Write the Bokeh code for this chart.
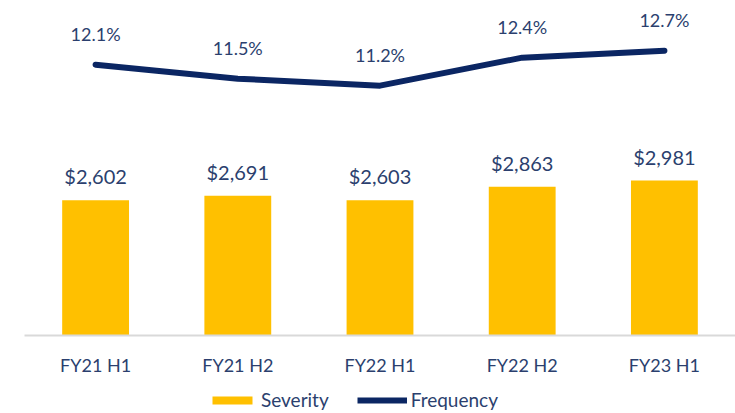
from bokeh.plotting import figure
from bokeh.layouts import column
from bokeh.models import Range1d, ColumnDataSource, Legend, LegendItem, LabelSet, FactorRange
from bokeh.core.properties import value
from bokeh.embed import file_html
from bokeh.resources import INLINE

categories = ["FY21 H1", "FY21 H2", "FY22 H1", "FY22 H2", "FY23 H1"]
severity = [2602, 2691, 2603, 2863, 2981]
frequency = [12.1, 11.5, 11.2, 12.4, 12.7]
severity_labels = ["$2,602", "$2,691", "$2,603", "$2,863", "$2,981"]
frequency_labels = ["12.1%", "11.5%", "11.2%", "12.4%", "12.7%"]
series_names = ["Severity", "Frequency"]

TEXT = "#2b3f6e"
NAVY = "#0b2663"
GOLD = "#ffc000"
FONT = "Lato"

src = ColumnDataSource(dict(cat=categories, sev=severity, freq=frequency,
                            sl=severity_labels, fl=frequency_labels))

p = figure(x_range=FactorRange(*categories, range_padding=0.0), y_range=Range1d(0, 6445),
           frame_width=711, frame_height=335, output_backend="svg", toolbar_location=None,
           min_border_left=24, min_border_right=0, min_border_top=0, min_border_bottom=0)
p.extra_y_ranges = {"freq": Range1d(0.49, 14.85)}
p.outline_line_color = None
p.xgrid.grid_line_color = None
p.ygrid.grid_line_color = None
p.yaxis.visible = False
p.background_fill_color = "white"
p.border_fill_color = "white"

p.vbar(x="cat", top="sev", width=0.47, source=src, fill_color=GOLD, line_color=None)
p.line(x="cat", y="freq", source=src, line_color=NAVY, line_width=6,
       y_range_name="freq", line_cap="round", line_join="round")

p.add_layout(LabelSet(x="cat", y="sev", text="sl", source=src, y_offset=12,
                      text_align="center", text_baseline="bottom",
                      text_font=value(FONT), text_font_size="20px", text_color=TEXT))
p.add_layout(LabelSet(x="cat", y="freq", text="fl", source=src, y_offset=20,
                      y_range_name="freq", text_align="center", text_baseline="bottom",
                      text_font=value(FONT), text_font_size="18px", text_color=TEXT))

ax = p.xaxis[0]
ax.axis_line_color = "#d9d9d9"
ax.axis_line_width = 2
ax.major_tick_line_color = None
ax.minor_tick_line_color = None
ax.major_label_text_font = FONT
ax.major_label_text_font_size = "18px"
ax.major_label_text_color = TEXT
ax.major_label_standoff = 12

# legend strip
p2 = figure(width=735, height=35, x_range=Range1d(0, 1), y_range=Range1d(0, 1),
            output_backend="svg", toolbar_location=None,
            min_border_left=0, min_border_right=0, min_border_top=0, min_border_bottom=0)
p2.axis.visible = False
p2.grid.visible = False
p2.outline_line_color = None
p2.border_fill_color = "white"
hidden = ColumnDataSource(dict(x=[-10, -9], y=[-10, -10]))
r_bar = p2.vbar(x="x", top="y", width=0.5, source=hidden, fill_color=GOLD, line_color=None)
r_line = p2.line(x="x", y="y", source=hidden, line_color=NAVY, line_width=6)

legend = Legend(items=[LegendItem(label=series_names[0], renderers=[r_bar]),
                       LegendItem(label=series_names[1], renderers=[r_line])],
                orientation="horizontal", location=(183, 2),
                glyph_width=50, glyph_height=10, label_standoff=4, spacing=28,
                padding=0, margin=0, border_line_color=None, background_fill_alpha=0,
                label_text_font=FONT, label_text_font_size="19px", label_text_color=TEXT,
                label_height=20)
p2.add_layout(legend, "center")

open("out.html", "w").write(file_html(column(p, p2, spacing=0), INLINE))
